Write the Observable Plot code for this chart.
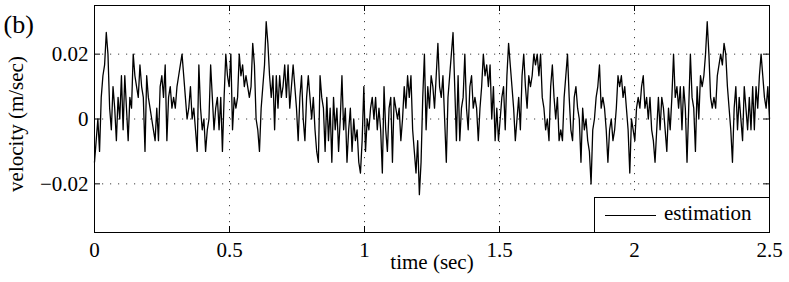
<!DOCTYPE html>
<html><head><meta charset="utf-8">
<script src="https://cdn.jsdelivr.net/npm/d3@7"></script>
<script src="https://cdn.jsdelivr.net/npm/@observablehq/plot@0.6"></script>
<style>
body{margin:0;background:#fff;}
#wrap{position:relative;width:789px;height:282px;overflow:hidden;}
#legend{position:absolute;left:594px;top:197px;width:176px;height:36px;border:1px solid #000;background:#fff;box-sizing:border-box;font-family:"Liberation Serif","DejaVu Serif",serif;font-size:21px;}
#legend .ln{position:absolute;left:10px;top:17px;width:51px;height:0;border-top:1px solid #000;}
#legend .tx{position:absolute;left:69px;top:3px;line-height:24px;}
</style></head><body><div id="wrap"><div id="legend"><div class="ln"></div><div class="tx">estimation</div></div></div>
<script>
// x/y tick values
const xTicks = [0, 0.5, 1, 1.5, 2, 2.5];
const yTicks = [-0.02, 0, 0.02];
const tEnd = 2.5;
// velocity quantum (one encoder count), m/sec
const countToVelocity = 0.02 / 6;
// estimated velocity in counts, uniformly sampled over 0..2.5 s
const counts0 = [-4,-2,0,-3,2,4,5,8,6,1,-1,3,1,-2,2,0,4,-1,4,1,-2,2,1,6,4,3,2,5,3,2,-3,4,2,1,0,-1,-2,1,-2,3,4,2,5,-2,2,3,1,2,1,3,4,5,6,4,2,0,1,3,0,1,-1,-3,5,1,-1,0,-3,-1];
const counts1 = [0,5,2,-1,1,2,-1,2,-3,2,6,4,3,6,-1,2,1,2,6,4,5,3,4,3,2,3,7,5,0,-1,-3,1,3,5,9,7,4,2,4,-1,4,1,4,2,3,5,2,5,1,3,5,3,1,-2,2,4,0,-2,2,4,2,0,2,-1,-3,-4];
const counts2 = [4,2,1,-3,2,-2,1,-4,2,-1,1,-3,0,4,-1,1,-4,-1,1,-3,0,-2,-1,-4,-5,-2,3,-3,0,-1,1,2,0,2,-1,1,-1,-5,3,-1,-3,1,2,-4,2,1,0,1,-2,0,3,1,4,2,4,-1,-3,-5,-2,-7,-4,2,6,-1,3,1,4];
const counts3 = [3,1,4,7,3,2,4,0,-4,2,4,6,8,3,-2,4,-2,1,2,6,1,-1,3,4,1,2,1,-2,1,3,6,4,5,3,5,0,3,-2,1,-2,0,2,3,-1,4,7,5,3,1,-2,0,2,-1,4,6,3,1,4,3,4,6,5,6,4,6,2,1];
const counts4 = [-1,0,-2,3,5,2,0,2,-2,-1,-2,2,4,6,2,-1,-2,2,3,1,0,-4,1,-1,0,-2,-3,-6,-1,0,2,3,5,1,2,1,-1,-4,-1,0,-2,-1,1,4,3,4,2,3,1,-1,-5,0,-1,-2,1,2,1,3,4,1,2,0,2,-1,-2,-4,-1];
const counts5 = [2,-1,2,1,-1,-3,1,-1,2,6,2,3,1,3,-1,3,1,-4,1,6,2,1,-3,3,0,4,3,4,6,9,6,2,1,2,1,4,5,6,5,7,6,3,1,-1,-4,1,3,-1,2,0,-2,3,1,-1,2,-1,3,-1,3,1,4,6,4,2,1,3,0];

const counts = [...counts0, ...counts1, ...counts2, ...counts3, ...counts4, ...counts5];
const dt = tEnd / (counts.length - 1);
const data = counts.map((c, i) => ({t: i * dt, v: c * countToVelocity}));

const fmtY = d => d === 0 ? "0" : (d < 0 ? "\u2212" : "") + Math.abs(d).toFixed(2);
const fmtX = d => String(d);
const dots = "1.2,6.8";
const serif = '"Liberation Serif","DejaVu Serif",serif';

const plot = Plot.plot({
  width: 789, height: 282,
  marginLeft: 94, marginRight: 20, marginTop: 5, marginBottom: 50,
  style: {fontFamily: serif, fontSize: "21px", color: "#000", background: "#fff"},
  x: {domain: [0, 2.5]},
  y: {domain: [-0.035, 0.035]},
  marks: [
    Plot.gridX(xTicks, {stroke: "#000", strokeOpacity: 0.75, strokeDasharray: dots}),
    Plot.gridY(yTicks, {stroke: "#000", strokeOpacity: 0.75, strokeDasharray: dots}),
    Plot.tickX(xTicks, {x: d => d, insetBottom: 221, stroke: "#000"}),
    Plot.tickX(xTicks, {x: d => d, insetTop: 221, stroke: "#000"}),
    Plot.tickY(yTicks, {y: d => d, insetRight: 669, stroke: "#000"}),
    Plot.tickY(yTicks, {y: d => d, insetLeft: 669, stroke: "#000"}),
    Plot.line(data, {x: "t", y: "v", stroke: "#000", strokeWidth: 1.3}),
    Plot.frame({stroke: "#000"}),
    Plot.axisX(xTicks, {tickSize: 0, tickPadding: 10, tickFormat: fmtX, label: null, fontFamily: serif}),
    Plot.axisY(yTicks, {tickSize: 0, tickPadding: 6, tickFormat: fmtY, label: null, fontFamily: serif}),
    Plot.text(["velocity (m/sec)"], {frameAnchor: "left", textAnchor: "middle", rotate: -90, dx: -78, dy: 5, fontSize: 21, fontFamily: serif}),
    Plot.text(["time (sec)"], {frameAnchor: "bottom", dy: 36, fontSize: 21, fontFamily: serif}),
    Plot.text(["(b)"], {frameAnchor: "top-left", textAnchor: "start", dx: -91, dy: 9, fontSize: 26, fontFamily: serif})
  ]
});
plot.style.position = "absolute";
plot.style.left = "0px";
plot.style.top = "0px";
const wrap = document.getElementById("wrap");
wrap.insertBefore(plot, wrap.firstChild);
</script>
</body></html>
